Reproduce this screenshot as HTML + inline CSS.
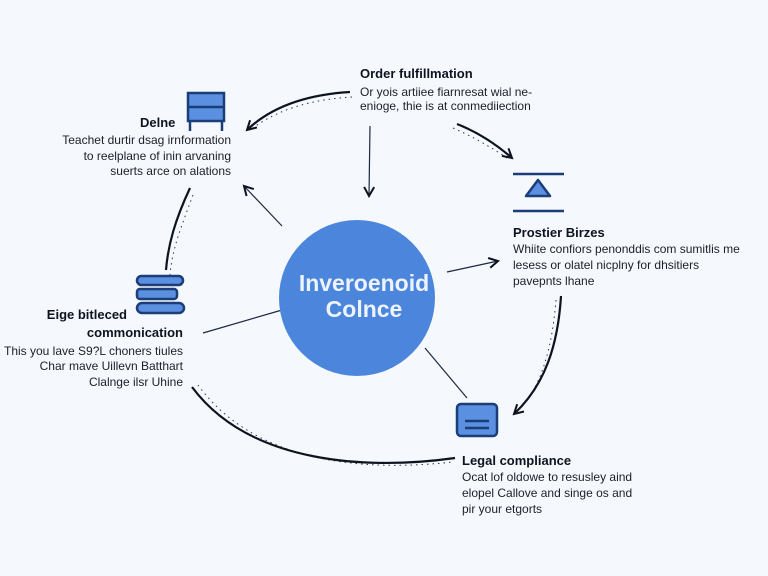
<!DOCTYPE html>
<html><head><meta charset="utf-8"><style>
html,body{margin:0;padding:0;background:#f5f8fc;}
svg{display:block;font-family:"Liberation Sans",sans-serif;}
.t{font-weight:bold;font-size:13px;fill:#0d1420;}
.b{font-size:12px;fill:#1a1f2a;}
</style></head><body>
<svg width="768" height="576" viewBox="0 0 768 576">
<defs>
<marker id="a" markerWidth="12" markerHeight="12" refX="10" refY="6" orient="auto" markerUnits="userSpaceOnUse">
<path d="M1,1 L10,6 L1,11" fill="none" stroke="#0d1420" stroke-width="2"/></marker>
</defs>
<rect width="768" height="576" fill="#f5f8fc"/>
<g fill="none" stroke="#334" stroke-width="1" stroke-dasharray="1.5 4">
<path d="M352,97 C300,100 270,115 250,130"/>
<path d="M453,128 C480,140 495,150 510,160"/>
<path d="M193,195 C180,230 172,250 170,275"/>
<path d="M556,300 C552,350 540,390 518,410"/>
<path d="M198,385 C260,470 380,470 453,462"/>
</g>
<g fill="none" stroke="#0d1420" stroke-width="2.2">
<path d="M350,92 C300,95 268,110 247,130" marker-end="url(#a)"/>
<path d="M457,124 C480,133 497,145 512,158" marker-end="url(#a)"/>
<path d="M190,188 C175,220 168,245 166,270"/>
<path d="M561,296 C558,345 545,385 514,414" marker-end="url(#a)"/>
<path d="M192,387 C250,465 370,470 455,458"/>
</g>
<g stroke="#1b2a44" stroke-width="1.2" fill="none">
<line x1="370" y1="126" x2="369" y2="196" marker-end="url(#a)"/>
<line x1="282" y1="226" x2="244" y2="186" marker-end="url(#a)"/>
<line x1="447" y1="272" x2="498" y2="261" marker-end="url(#a)"/>
<line x1="282" y1="310" x2="203" y2="333"/>
<line x1="467" y1="398" x2="425" y2="348"/>
</g>
<circle cx="357" cy="298" r="78" fill="#4b86dc"/>
<text x="364" y="291" text-anchor="middle" font-size="23" font-weight="bold" fill="#eef4ff">Inveroenoid</text>
<text x="364" y="317" text-anchor="middle" font-size="23" font-weight="bold" fill="#eef4ff">Colnce</text>
<g stroke="#1c3e78" stroke-width="2.5" fill="#5b8fe0">
<rect x="188" y="93" width="36" height="28"/>
<line x1="188" y1="107" x2="224" y2="107"/>
<line x1="190" y1="121" x2="190" y2="131"/><line x1="222" y1="121" x2="222" y2="131"/>
<rect x="137" y="276" width="46" height="9" rx="4.5"/>
<rect x="137" y="289" width="40" height="10" rx="3"/>
<rect x="137" y="303" width="47" height="10" rx="5"/>
<path d="M526,196 L538,180 L550,196 Z" stroke-linejoin="round"/>
<rect x="457" y="404" width="40" height="32" rx="4"/>
</g>
<g stroke="#1c3e78" stroke-width="2.5">
<line x1="513" y1="174" x2="564" y2="174"/><line x1="513" y1="211" x2="564" y2="211"/>
<line x1="465" y1="421" x2="489" y2="421"/><line x1="465" y1="428" x2="489" y2="428"/>
</g>
<text class="t" x="360" y="78">Order fulfillmation</text>
<text class="b" x="360" y="96">Or yois artiiee fiarnresat wial ne-</text>
<text class="b" x="360" y="110">enioge, thie is at conmediiection</text>
<text class="t" x="140" y="127">Delne</text>
<g text-anchor="end"><text class="b" x="231" y="144">Teachet durtir dsag irnformation</text>
<text class="b" x="231" y="160">to reelplane of inin arvaning</text>
<text class="b" x="231" y="175">suerts arce on alations</text></g>
<text class="t" x="513" y="237">Prostier Birzes</text>
<text class="b" x="513" y="253">Whiite confiors penonddis com sumitlis me</text>
<text class="b" x="513" y="269">lesess or olatel nicplny for dhsitiers</text>
<text class="b" x="513" y="285">pavepnts lhane</text>
<g text-anchor="end">
<text class="t" x="127" y="319">Eige bitleced</text>
<text class="t" x="183" y="337">commonication</text>
<text class="b" x="183" y="355">This you lave S9?L choners tiules</text>
<text class="b" x="183" y="370">Char mave Uillevn Batthart</text>
<text class="b" x="183" y="386">Clalnge ilsr Uhine</text></g>
<text class="t" x="462" y="465">Legal compliance</text>
<text class="b" x="462" y="481">Ocat lof oldowe to resusley aind</text>
<text class="b" x="462" y="497">elopel Callove and singe os and</text>
<text class="b" x="462" y="513">pir your etgorts</text>
</svg>
</body></html>
